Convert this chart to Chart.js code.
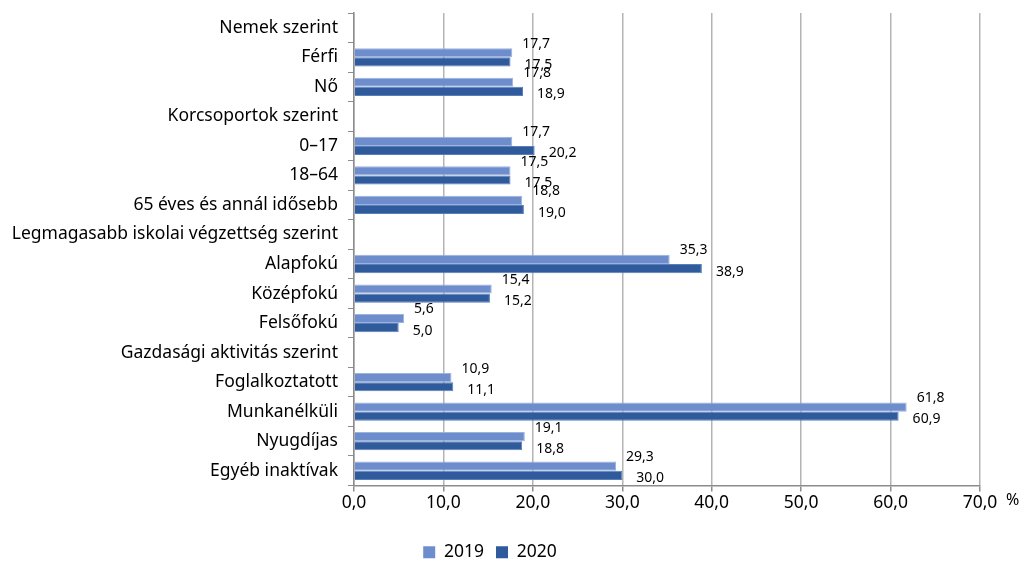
<!DOCTYPE html>
<html>
<head>
<meta charset="utf-8">
<script src="https://cdn.jsdelivr.net/npm/chart.js@4/dist/chart.umd.min.js"></script>
<style>
  html, body { margin: 0; padding: 0; background: #fff; }
  #wrap { width: 1022px; height: 561px; }
</style>
</head>
<body>
<div id="wrap"><canvas id="chart"></canvas></div>
<script>
// categories (header rows have no bars)
var categories = ['Nemek szerint', 'Férfi', 'Nő', 'Korcsoportok szerint', '0–17', '18–64',
  '65 éves és annál idősebb', 'Legmagasabb iskolai végzettség szerint', 'Alapfokú',
  'Középfokú', 'Felsőfokú', 'Gazdasági aktivitás szerint', 'Foglalkoztatott',
  'Munkanélküli', 'Nyugdíjas', 'Egyéb inaktívak'];
var values2019 = [null, 17.7, 17.8, null, 17.7, 17.5, 18.8, null, 35.3, 15.4, 5.6, null, 10.9, 61.8, 19.1, 29.3];
var values2020 = [null, 17.5, 18.9, null, 20.2, 17.5, 19.0, null, 38.9, 15.2, 5.0, null, 11.1, 60.9, 18.8, 30.0];
var xTicks = [0, 10, 20, 30, 40, 50, 60, 70];

function huNum(v) {
  return v.toFixed(1).replace('.', ',');
}

// value labels next to bar ends + the "%" unit after the last tick
var labelPlugin = {
  id: 'labels',
  afterDatasetsDraw: function(chart) {
    var ctx = chart.ctx;
    ctx.save();
    ctx.font = '14px "Noto Sans"';
    ctx.fillStyle = '#000';
    ctx.textAlign = 'left';
    ctx.textBaseline = 'middle';
    chart.data.datasets.forEach(function(ds, di) {
      var meta = chart.getDatasetMeta(di);
      meta.data.forEach(function(bar, i) {
        if (ds.data[i] == null) return;
        var dy = di === 0 ? -9 : 3;
        var dx = di === 0 ? 10 : 14;
        ctx.fillText(huNum(ds.data[i]), bar.x + dx, bar.y + dy);
      });
    });
    var xs = chart.scales.x;
    ctx.font = '16px "Noto Sans"';
    ctx.fillText('%', xs.right + 26, xs.top + 15);
    ctx.restore();
  }
};

new Chart(document.getElementById('chart'), {
  type: 'bar',
  data: {
    labels: categories,
    datasets: [{
      label: '2019',
      data: values2019,
      backgroundColor: '#6e8dcd',
      borderColor: '#9db3df',
      borderWidth: 1,
      barPercentage: 1,
      categoryPercentage: 0.62
    }, {
      label: '2020',
      data: values2020,
      backgroundColor: '#2f5b9d',
      borderColor: '#5a7fb8',
      borderWidth: 1,
      barPercentage: 1,
      categoryPercentage: 0.62
    }]
  },
  options: {
    indexAxis: 'y',
    responsive: true,
    maintainAspectRatio: false,
    animation: false,
    layout: { padding: { top: 13, right: 42, left: 0, bottom: -10 } },
    scales: {
      x: {
        min: 0,
        max: 70,
        afterBuildTicks: function(s) { s.ticks = xTicks.map(function(v) { return { value: v }; }); },
        afterFit: function(s) { s.height = 46; s.paddingLeft = 0; s.paddingRight = 0; },
        ticks: {
          color: '#000',
          font: { family: '"Noto Sans"', size: 17.5 },
          padding: 1,
          callback: function(v) { return huNum(v); }
        },
        grid: { color: '#b4b4b4', lineWidth: 1.5, tickLength: 6, drawTicks: true, tickColor: '#8c8c8c' },
        border: { color: '#8c8c8c', width: 1.5 }
      },
      y: {
        afterFit: function(s) { s.width = 354; s.paddingTop = 0; s.paddingBottom = 0; },
        ticks: {
          color: '#000',
          font: { family: '"Noto Sans"', size: 17.5 },
          padding: 10,
          autoSkip: false
        },
        grid: { offset: true, drawOnChartArea: false, tickLength: 6, tickColor: '#8c8c8c' },
        border: { color: '#8c8c8c', width: 1.5 }
      }
    },
    plugins: {
      legend: {
        position: 'bottom',
        labels: {
          color: '#000',
          boxWidth: 12,
          boxHeight: 12,
          padding: 12,
          font: { family: '"Noto Sans"', size: 17.5 },
          generateLabels: function(chart) {
            return chart.data.datasets.map(function(ds, i) {
              return { text: ds.label, fillStyle: ds.backgroundColor, strokeStyle: ds.backgroundColor, lineWidth: 0, datasetIndex: i };
            });
          }
        }
      },
      tooltip: { enabled: false }
    }
  },
  plugins: [labelPlugin]
});
</script>
</body>
</html>
